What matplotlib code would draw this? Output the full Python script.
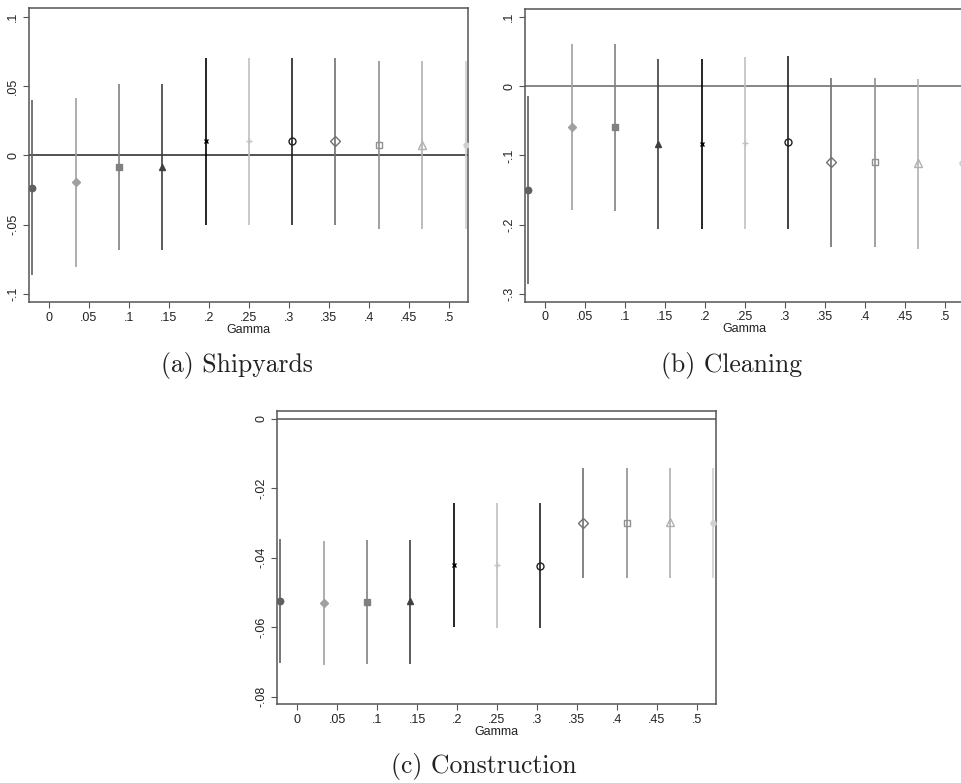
import matplotlib
matplotlib.use("Agg")
import matplotlib.pyplot as plt

plt.rcParams['font.family'] = ['Liberation Sans', 'DejaVu Sans']

# Gamma positions of the eleven estimates (dodged around the nominal grid)
gamma_pos = [-0.021, 0.0333, 0.0876, 0.1418, 0.196, 0.2504, 0.304, 0.3582, 0.4125, 0.4667, 0.521]

# Shipyards: point estimates and confidence bounds
ship_est = [-0.0233, -0.0194, -0.0084, -0.0080, 0.0106, 0.0106, 0.0106, 0.0106, 0.0079, 0.0079, 0.0079]
ship_lo = [-0.0866, -0.0806, -0.0679, -0.0679, -0.0504, -0.0504, -0.0504, -0.0504, -0.0528, -0.0528, -0.0528]
ship_hi = [0.0403, 0.0417, 0.0516, 0.0516, 0.0707, 0.0707, 0.0707, 0.0707, 0.0683, 0.0683, 0.0683]

# Cleaning
clean_est = [-0.1495, -0.0591, -0.0591, -0.0837, -0.0837, -0.0820, -0.0813, -0.1100, -0.1100, -0.1115, -0.1115]
clean_lo = [-0.2856, -0.1788, -0.1798, -0.2067, -0.2067, -0.2067, -0.2067, -0.2317, -0.2317, -0.2350, -0.2350]
clean_hi = [-0.0144, 0.0601, 0.0610, 0.0385, 0.0385, 0.0418, 0.0433, 0.0120, 0.0120, 0.0101, 0.0101]

# Construction
cons_est = [-0.0525, -0.0530, -0.0527, -0.0525, -0.0421, -0.0421, -0.0423, -0.0301, -0.0301, -0.0298, -0.0300]
cons_lo = [-0.0702, -0.0709, -0.0706, -0.0706, -0.0600, -0.0602, -0.0603, -0.0459, -0.0459, -0.0458, -0.0458]
cons_hi = [-0.0347, -0.0351, -0.0349, -0.0349, -0.0242, -0.0244, -0.0244, -0.0143, -0.0143, -0.0142, -0.0142]

x_ticks = [0, 0.05, 0.1, 0.15, 0.2, 0.25, 0.3, 0.35, 0.4, 0.45, 0.5]
x_ticklabels = ['0', '.05', '.1', '.15', '.2', '.25', '.3', '.35', '.4', '.45', '.5']

ship_yticks = [-0.1, -0.05, 0, 0.05, 0.1]
ship_yticklabels = ['-.1', '-.05', '0', '.05', '.1']
clean_yticks = [-0.3, -0.2, -0.1, 0, 0.1]
clean_yticklabels = ['-.3', '-.2', '-.1', '0', '.1']
cons_yticks = [-0.08, -0.06, -0.04, -0.02, 0]
cons_yticklabels = ['-.08', '-.06', '-.04', '-.02', '0']

captions = ['(a) Shipyards', '(b) Cleaning', '(c) Construction']

# monochrome series styles: (colour, marker, filled, marker size)
styles = [
    ('#606060', 'o', True, 4.6),
    ('#a0a0a0', 'D', True, 4.2),
    ('#808080', 's', True, 4.4),
    ('#404040', '^', True, 5.0),
    ('#000000', 'x', False, 3.2),
    ('#c0c0c0', '+', False, 5.0),
    ('#202020', 'o', False, 5.0),
    ('#707070', 'D', False, 4.6),
    ('#909090', 's', False, 5.0),
    ('#b0b0b0', '^', False, 5.2),
    ('#d0d0d0', 'o', True, 3.6),
]

W, H = 961, 783
fig = plt.figure(figsize=(W / 100, H / 100), dpi=100)


def add_axes_px(left, top, right, bottom):
    return fig.add_axes([left / W, 1 - bottom / H, (right - left) / W, (bottom - top) / H])


def draw_panel(ax, est, lo, hi, yticks, yticklabels, ylim, zero_color):
    ax.axhline(0, color=zero_color, lw=1.1, zorder=1)
    for xv, e, l, h, (col, mk, filled, ms) in zip(gamma_pos, est, lo, hi, styles):
        ax.vlines(xv, l, h, color=col, lw=1.2, zorder=2)
        if filled:
            ax.plot(xv, e, marker=mk, color=col, ms=ms, mec=col, mfc=col, ls='none', zorder=3)
        else:
            ax.plot(xv, e, marker=mk, color=col, ms=ms, mec=col, mfc='none',
                    mew=1.0, ls='none', zorder=3)
    ax.set_xlim(-0.025, 0.524)
    ax.set_ylim(*ylim)
    ax.set_xticks(x_ticks)
    ax.set_xticklabels(x_ticklabels)
    ax.set_yticks(yticks)
    ax.set_yticklabels(yticklabels, rotation=90, va='center')
    ax.tick_params(axis='both', length=4.5, width=0.8, color='#555555',
                   labelsize=9, pad=2.5, labelcolor='#222222')
    for sp in ax.spines.values():
        sp.set_color('#555555')
        sp.set_linewidth(1.1)
    ax.set_xlabel('Gamma', fontsize=9, labelpad=0, color='#222222')


ax_a = add_axes_px(29, 8, 468, 302)
draw_panel(ax_a, ship_est, ship_lo, ship_hi, ship_yticks, ship_yticklabels,
           (-0.1058, 0.1065), '#222222')

ax_b = add_axes_px(525, 9.3, 964, 301.7)
draw_panel(ax_b, clean_est, clean_lo, clean_hi, clean_yticks, clean_yticklabels,
           (-0.311, 0.1107), '#666666')

ax_c = add_axes_px(277.3, 411, 715.7, 704)
draw_panel(ax_c, cons_est, cons_lo, cons_hi, cons_yticks, cons_yticklabels,
           (-0.0821, 0.0022), '#555555')

cap_kw = dict(fontsize=18.5, family='cmr10', color='#222222', ha='center', va='baseline')
fig.text(237 / W, 1 - 372 / H, captions[0], **cap_kw)
fig.text(732 / W, 1 - 372 / H, captions[1], **cap_kw)
fig.text(484 / W, 1 - 773 / H, captions[2], **cap_kw)

fig.savefig('out.png', dpi=100)
